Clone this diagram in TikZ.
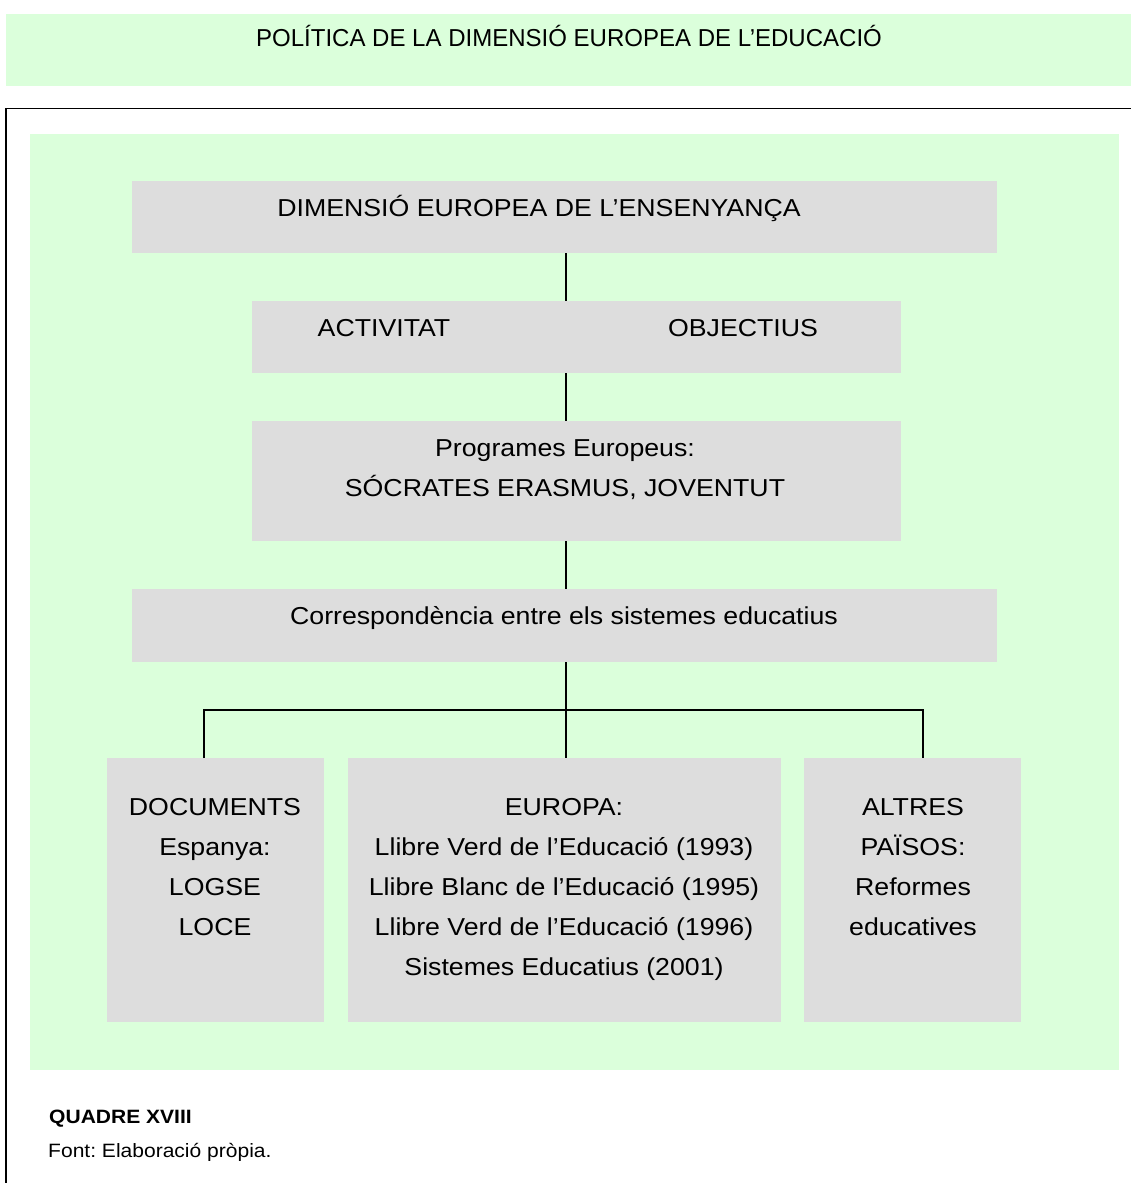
\documentclass[tikz,border=0pt]{standalone}
\usepackage{fontspec}
\setmainfont{Liberation Sans}[FakeStretch=1.09]
\newfontfamily\titlefont{Liberation Sans}[FakeStretch=0.98]
\usepackage{xcolor}
\usepackage{tikz}
\usetikzlibrary{positioning}
\definecolor{palegreen}{RGB}{219,255,219}
\definecolor{boxgray}{RGB}{221,221,221}

\begin{document}
\frenchspacing
\begin{tikzpicture}[x=1pt,y=-1pt,
    box/.style={fill=boxgray,inner sep=0pt,anchor=north west},
    txt/.style={font=\fontsize{24.5}{40}\selectfont,inner sep=0pt,anchor=base,align=center},
    foot/.style={font=\fontsize{19.3}{22}\selectfont,inner sep=0pt,anchor=base west},
    link/.style={line width=1.3pt}]
    \useasboundingbox (0,0) rectangle (1131,1183);
    \fill[palegreen] (6,14) rectangle (1131,86);
    \node[txt,font=\titlefont\fontsize{24.5}{26}\selectfont] (title) at (569,46) {POLÍTICA DE LA DIMENSIÓ EUROPEA DE L’EDUCACIÓ};
    \draw[line width=1.5pt] (6,1183) -- (6,108.5) -- (1131,108.5);
    \fill[palegreen] (30,134) rectangle (1119,1070);

    \node[box,minimum width=865pt,minimum height=72pt] (dim) at (132,181) {};
    \node[box,minimum width=649pt,minimum height=72pt] (act) at (252,301) {};
    \node[box,minimum width=649pt,minimum height=120pt] (prog) at (252,421) {};
    \node[box,minimum width=865pt,minimum height=73pt] (corr) at (132,589) {};
    \node[box,minimum width=217pt,minimum height=264pt] (doc) at (107,758) {};
    \node[box,minimum width=433pt,minimum height=264pt] (eur) at (348,758) {};
    \node[box,minimum width=217pt,minimum height=264pt] (alt) at (804,758) {};

    \node[txt] (dimtext) at (539,216) {DIMENSIÓ EUROPEA DE L’ENSENYANÇA};
    \node[txt] (acttext) at (384,336) {ACTIVITAT};
    \node[txt] (objtext) at (743,336) {OBJECTIUS};
    \node[txt] (progtext) at (565,496) {Programes Europeus:\\SÓCRATES ERASMUS, JOVENTUT};
    \node[txt] (corrtext) at (564,624) {Correspondència entre els sistemes educatius};
    \node[txt] (doctext) at (215,935) {DOCUMENTS\\Espanya:\\LOGSE\\LOCE};
    \node[txt] (eurtext) at (564,975) {EUROPA:\\Llibre Verd de l’Educació (1993)\\Llibre Blanc de l’Educació (1995)\\Llibre Verd de l’Educació (1996)\\Sistemes Educatius (2001)};
    \node[txt] (alttext) at (913,935) {ALTRES\\PAÏSOS:\\Reformes\\educatives};

    \coordinate (spine) at (566,0);
    \coordinate (lfork) at (204,710);
    \coordinate (rfork) at (923,710);
    \draw[link] (dim.south -| spine) -- (act.north -| spine);
    \draw[link] (act.south -| spine) -- (prog.north -| spine);
    \draw[link] (prog.south -| spine) -- (corr.north -| spine);
    \draw[link] (corr.south -| spine) -- (eur.north -| spine);
    \draw[link] (doc.north -| lfork) -- (lfork) -- (rfork) -- (alt.north -| rfork);

    \node[foot,font=\fontsize{19.3}{22}\selectfont\bfseries] (quadre) at (49,1123) {QUADRE XVIII};
    \node[foot] (source) at (48,1157) {Font: Elaboració pròpia.};
\end{tikzpicture}
\end{document}
